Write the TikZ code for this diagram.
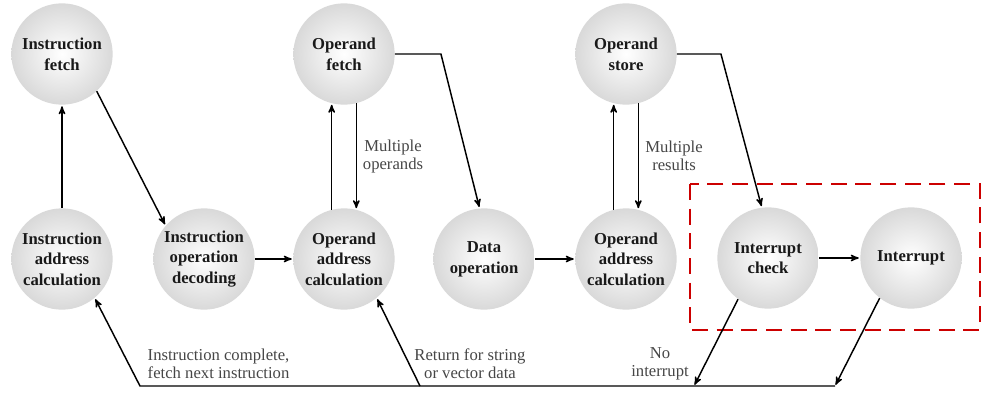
\documentclass[tikz,border=0pt]{standalone}
\usepackage{fontspec}
\setmainfont{Liberation Serif}
\usepackage{tikz}
\usetikzlibrary{positioning, arrows}
\definecolor{boxred}{RGB}{204,0,0}
\definecolor{labelgray}{RGB}{70,70,70}
\tikzset{
    stage/.style={
        circle,
        minimum size=76pt,
        inner sep=0pt,
        shading=radial,
        inner color=white,
        outer color=gray!30,
        font=\fontsize{12.5}{15.5}\selectfont\bfseries,
        text=black!90,
        align=center
    },
    note/.style={
        font=\fontsize{12.5}{13.5}\selectfont,
        text=labelgray,
        align=center
    },
    every edge/.style={
        draw,
        ->,>=stealth',
        line width=1.1pt
    },
    flow/.style={->,>=stealth',line width=1.1pt}
}

\begin{document}
\begin{tikzpicture}[x=0.75pt,y=-0.75pt,shorten >=1pt]
	\useasboundingbox (0,0) rectangle (987,410);
	\node[stage] at (62, 54) (ifetch) {Instruction\\fetch};
	\node[stage] at (344, 54) (ofetch) {Operand\\fetch};
	\node[stage] at (626, 54) (ostore) {Operand\\store};
	\node[stage] at (62, 259) (iac) {Instruction\\address\\calculation};
	\node[stage] at (204, 259) (iod) {Instruction\\operation\\decoding};
	\node[stage] at (344, 259) (oac) {Operand\\address\\calculation};
	\node[stage] at (484, 259) (dop) {Data\\operation};
	\node[stage] at (626, 259) (oacr) {Operand\\address\\calculation};
	\node[stage] at (768, 258) (icheck) {Interrupt\\check};
	\node[stage] at (911, 258) (intr) {Interrupt};
	% interrupt box
	\draw[boxred, line width=2.2pt, dash pattern=on 12pt off 6.5pt]
	(690, 184) rectangle (980, 330);
	\coordinate (bl) at (140, 386);
	\coordinate (br) at (835, 386);
	\coordinate (ni) at (694, 386);
	\coordinate (rs) at (420, 386);
	\draw
	(iac.north) edge (ifetch.south)
	(ifetch.-47) edge (iod.139)
	(iod) edge (oac)
	(oac.104) edge (ofetch.256)
	(ofetch.284) edge (oac.76)
	(dop) edge (oacr)
	(oacr.104) edge (ostore.256)
	(ostore.284) edge (oacr.76)
	(icheck) edge (intr)
	(icheck.234) edge (ni)
	(intr.232) edge (br)
	(rs) edge (oac.310);
	\draw[flow] (ofetch.east) -- ++(46, 0) -- (dop.95);
	\draw[flow] (ostore.east) -- ++(44, 0) -- (icheck.97);
	\draw[flow] (br) -- (bl) -- (iac.310);
	% labels
	\node[note] at (393, 156) {Multiple\\operands};
	\node[note] at (674, 156) {Multiple\\results};
	\node[note, align=left, anchor=west] at (143, 364) {Instruction complete,\\fetch next instruction};
	\node[note] at (470, 364) {Return for string\\or vector data};
	\node[note] at (660, 364) {No\\interrupt};
\end{tikzpicture}
\end{document}
